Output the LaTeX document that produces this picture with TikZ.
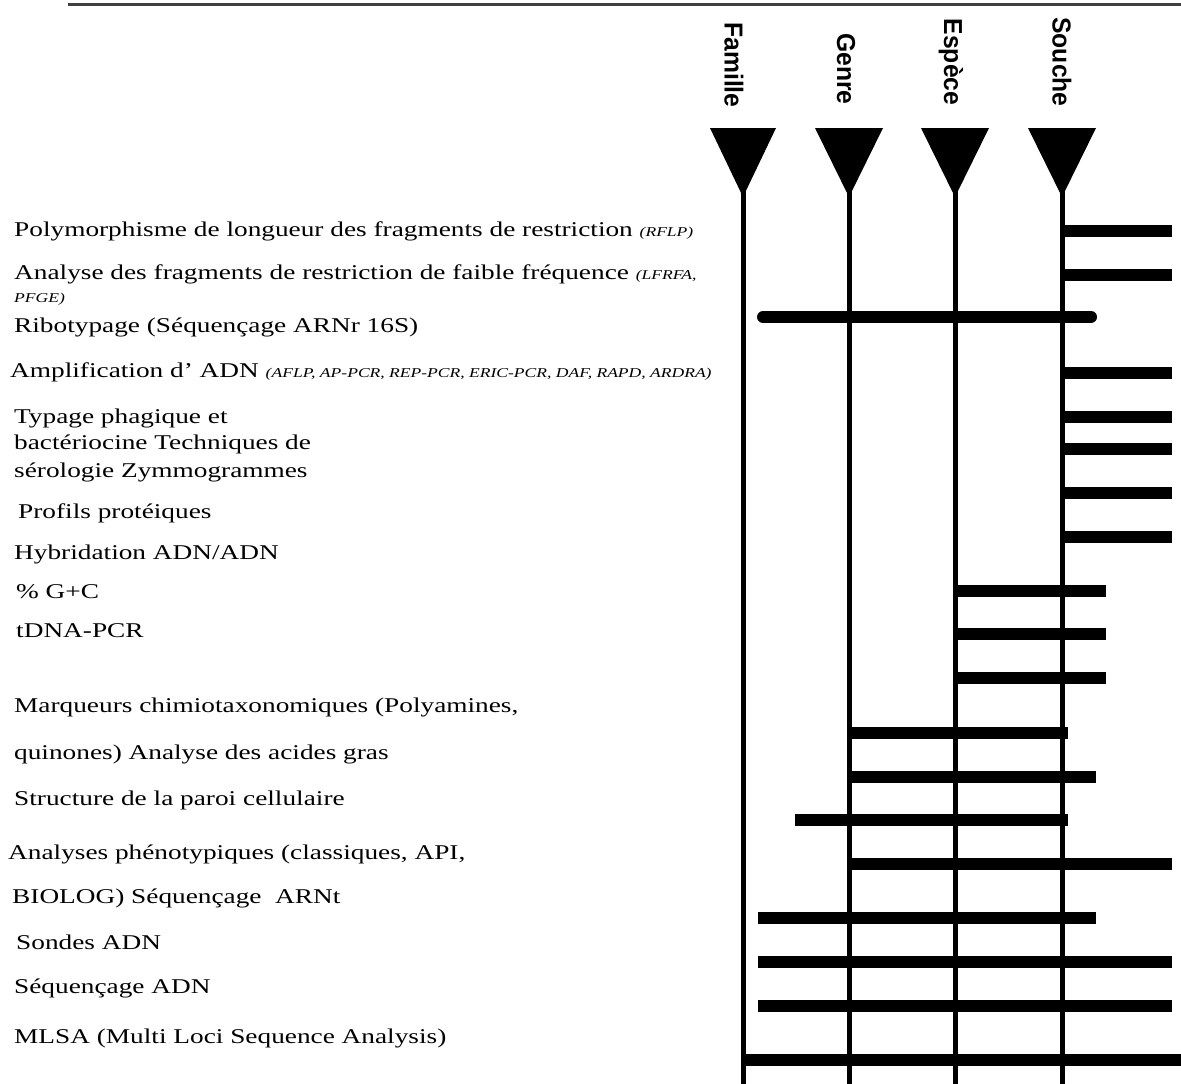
\documentclass[tikz,border=0pt]{standalone}
\usepackage{fontspec}
\setmainfont[FakeStretch=1.3]{Liberation Serif}
\newfontfamily\hdrfam[FakeStretch=0.95]{Liberation Sans}
\newcommand\lblsize{\fontsize{21}{25}\selectfont}
\newcommand\smit{\fontsize{13.5}{15}\selectfont\itshape}
\begin{document}
\begin{tikzpicture}[x=1pt,y=-1pt,
  bar/.style={line width=12pt},
  col/.style={line width=5pt},
  tri/.style={fill=black},
  hdr/.style={rotate=-90,inner sep=0pt,font=\hdrfam\bfseries\fontsize{26}{30}\selectfont},
  lbl/.style={anchor=base west,inner sep=0pt,font=\lblsize}]
\useasboundingbox[fill=white] (0,0) rectangle (1181,1084);
% top rule
\coordinate (ruleL) at (68,4);
\coordinate (ruleR) at (1181,4);
\draw[line width=3pt,black!75] (ruleL) -- (ruleR);
% column headers
\node[hdr] (famL) at (734,65) {Famille};
\node[hdr] (genL) at (846,69) {Genre};
\node[hdr] (espL) at (951,62) {Espèce};
\node[hdr] (souL) at (1062,62) {Souche};
% triangles
\fill[tri] (710,128) -- (776,128) -- (743,197) -- cycle;
\fill[tri] (815,128) -- (883,128) -- (849,197) -- cycle;
\fill[tri] (921,128) -- (989,128) -- (955,197) -- cycle;
\fill[tri] (1028,128) -- (1096,128) -- (1062,197) -- cycle;
% vertical axes
\coordinate (famA) at (743,190); \coordinate (famZ) at (743,1084);
\coordinate (genA) at (849,190); \coordinate (genZ) at (849,1084);
\coordinate (espA) at (955,190); \coordinate (espZ) at (955,1084);
\coordinate (souA) at (1062,190); \coordinate (souZ) at (1062,1084);
\draw[col] (famA) -- (famZ);
\draw[col] (genA) -- (genZ);
\draw[col] (espA) -- (espZ);
\draw[col] (souA) -- (souZ);
% bars
\draw[bar] (1062,231) -- (1172,231);
\draw[bar] (1062,275) -- (1172,275);
\draw[bar,line cap=round] (763,317) -- (1091,317);
\draw[bar] (1062,373) -- (1172,373);
\draw[bar] (1062,417) -- (1172,417);
\draw[bar] (1062,449) -- (1172,449);
\draw[bar] (1062,493) -- (1172,493);
\draw[bar] (1062,537) -- (1172,537);
\draw[bar] (956,591) -- (1106,591);
\draw[bar] (956,634) -- (1106,634);
\draw[bar] (956,678) -- (1106,678);
\draw[bar] (852,733) -- (1068,733);
\draw[bar] (852,777) -- (1096,777);
\draw[bar] (795,820) -- (1068,820);
\draw[bar] (852,864) -- (1172,864);
\draw[bar] (758,918) -- (1096,918);
\draw[bar] (758,962) -- (1172,962);
\draw[bar] (758,1006) -- (1172,1006);
\draw[bar] (743,1060) -- (1181,1060);
% labels
\node[lbl] (t1) at (14,236) {Polymorphisme de longueur des fragments de restriction {\smit (RFLP)}};
\node[lbl] (t2) at (14,279) {Analyse des fragments de restriction de faible fréquence {\smit (LFRFA,}};
\node[lbl] (t2b) at (14,302) {\smit PFGE)};
\node[lbl] (t3) at (14,332) {Ribotypage (Séquençage ARNr 16S)};
\node[lbl] (t4) at (10,377) {Amplification d’ ADN {\smit (AFLP, AP-PCR, REP-PCR, ERIC-PCR, DAF, RAPD, ARDRA)}};
\node[lbl] (t5) at (14,423) {Typage phagique et};
\node[lbl] (t6) at (14,449) {bactériocine Techniques de};
\node[lbl] (t7) at (14,477) {sérologie Zymmogrammes};
\node[lbl] (t8) at (18,518) {Profils protéiques};
\node[lbl] (t9) at (14,559) {Hybridation ADN/ADN};
\node[lbl] (t10) at (16,598) {\% G+C};
\node[lbl] (t11) at (16,637) {tDNA-PCR};
\node[lbl] (t12) at (14,712) {Marqueurs chimiotaxonomiques (Polyamines,};
\node[lbl] (t13) at (14,759) {quinones) Analyse des acides gras};
\node[lbl] (t14) at (14,805) {Structure de la paroi cellulaire};
\node[lbl] (t15) at (8,859) {Analyses phénotypiques (classiques, API,};
\node[lbl] (t16) at (12,903) {BIOLOG) Séquençage\ \ ARNt};
\node[lbl] (t17) at (16,949) {Sondes ADN};
\node[lbl] (t18) at (14,993) {Séquençage ADN};
\node[lbl] (t19) at (14,1043) {MLSA (Multi Loci Sequence Analysis)};
\end{tikzpicture}
\end{document}
